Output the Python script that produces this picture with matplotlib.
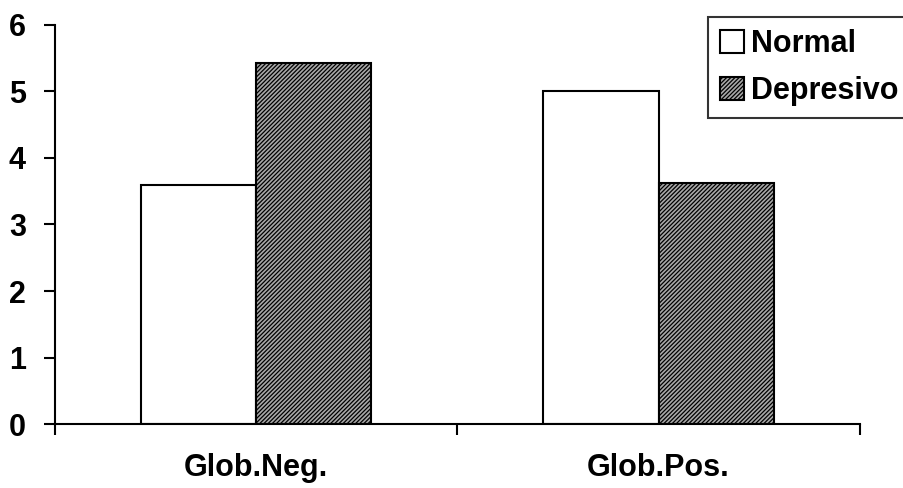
import matplotlib
matplotlib.use("Agg")
import matplotlib.pyplot as plt
import numpy as np

plt.rcParams['font.family'] = ['Liberation Sans', 'DejaVu Sans']
plt.rcParams['hatch.linewidth'] = 0.9

categories = ["Glob.Neg.", "Glob.Pos."]
normal = [3.6, 5.0]
depresivo = [5.43, 3.62]
series_names = ["Normal", "Depresivo"]

fig = plt.figure(figsize=(9.04, 4.88), dpi=100)
ax = fig.add_axes([0.0608, 0.131, 0.8902, 0.818])

x = np.arange(len(categories))
w = 0.286
ax.bar(x - w / 2, normal, w, facecolor='white', edgecolor='black', linewidth=1.5,
       label=series_names[0])
ax.bar(x + w / 2, depresivo, w, facecolor='#a8a8a8', edgecolor='black', linewidth=1.5,
       hatch='////////', label=series_names[1])

ax.set_xlim(-0.5, len(categories) - 0.5)
ax.set_ylim(0, 6)
ax.set_yticks(range(7))
ax.set_xticks(x)
ax.set_xticklabels(categories, fontsize=22, fontweight='bold')
ax.set_xticks(np.arange(-0.5, len(categories)), minor=True)
ax.tick_params(axis='x', which='major', length=0, pad=21)
ax.tick_params(axis='x', which='minor', length=8, width=1.5, direction='out')
ax.tick_params(axis='y', length=8, width=1.5, direction='out', pad=13)
for lab in ax.get_yticklabels():
    lab.set_fontsize(22)
    lab.set_fontweight('bold')

for s in ['top', 'right']:
    ax.spines[s].set_visible(False)
for s in ['left', 'bottom']:
    ax.spines[s].set_linewidth(1.5)

leg = fig.legend(loc='upper left', bbox_to_anchor=(0.783, 0.965), frameon=True,
                 fancybox=False, edgecolor='black', prop={'size': 22, 'weight': 'bold'},
                 handlelength=0.8, handleheight=0.8, handletextpad=0.2,
                 borderpad=0.4, labelspacing=0.55, borderaxespad=0)
leg.get_frame().set_linewidth(1.5)

fig.savefig("out.png", dpi=100)
